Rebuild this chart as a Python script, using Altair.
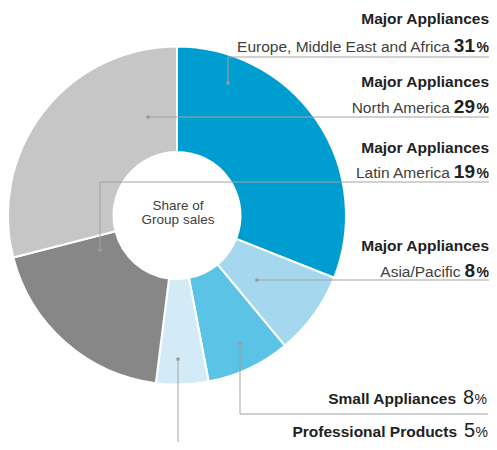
import altair as alt
import pandas as pd

# ---------------- data ----------------
segments = [
    "Major Appliances Europe, Middle East and Africa",
    "Major Appliances Asia/Pacific",
    "Small Appliances",
    "Professional Products",
    "Major Appliances Latin America",
    "Major Appliances North America",
]
shares = [31, 8, 8, 5, 19, 29]
colors = ["#009dd1", "#a5d8ef", "#5bc3e5", "#d3ebf7", "#878787", "#c6c6c6"]

headers = ["Major Appliances", "Major Appliances", "Major Appliances", "Major Appliances"]
regions = ["Europe, Middle East and Africa", "North America", "Latin America", "Asia/Pacific"]
region_values = ["31", "29", "19", "8"]
other_labels = ["Small Appliances", "Professional Products"]
other_values = ["8", "5"]
center_text = ["Share of", "Group sales"]

# ---------------- layout (reference pixel coordinates) ----------------
OFF = 8
W, H = 481, 434
CX, CY = 177, 215.5
R_OUT, R_IN = 169, 63.5
FONT = "Liberation Sans"

header_y = [24, 87, 153, 251]
sub_y = [52, 113, 178, 277]
RIGHT = 489
NUM_RIGHT = 475
other_y = [404, 437]
other_label_right = [456, 457]
other_num_right = [474, 475]
other_pct_right = [487, 488]
center_y = [210, 224]

leaders = [
    [(228, 83), (228, 57), (497, 57)],
    [(148, 117), (497, 117)],
    [(100, 250), (100, 182), (497, 182)],
    [(257, 280), (497, 280)],
    [(240, 343), (240, 414), (488, 414)],
    [(178, 359), (178, 455)],
]

def cx(v):
    return v - OFF

def cy(v):
    return v - OFF

# ---------------- pie ----------------
pie_df = pd.DataFrame({
    "segment": segments,
    "share": shares,
    "color": colors,
    "order": list(range(len(segments))),
})

pie = alt.Chart(pie_df).mark_arc(
    radius=R_OUT, innerRadius=R_IN, stroke="white", strokeWidth=2
).encode(
    theta=alt.Theta("share:Q", stack=True),
    order=alt.Order("order:Q"),
    color=alt.Color("color:N", scale=None),
    x=alt.value(cx(CX)),
    y=alt.value(cy(CY)),
)

# ---------------- leader lines ----------------
rule_rows = []
dot_rows = []
for path in leaders:
    dot_rows.append({"x": cx(path[0][0]), "y": cy(path[0][1])})
    for (x1, y1), (x2, y2) in zip(path[:-1], path[1:]):
        rule_rows.append({"x": cx(x1), "y": cy(y1), "x2": cx(x2), "y2": cy(y2)})

rules = alt.Chart(pd.DataFrame(rule_rows)).mark_rule(
    color="#a3a3a3", strokeWidth=1
).encode(
    x=alt.X("x:Q", scale=None, axis=None),
    y=alt.Y("y:Q", scale=None, axis=None),
    x2="x2:Q",
    y2="y2:Q",
)

dots = alt.Chart(pd.DataFrame(dot_rows)).mark_circle(
    color="#9a9a9a", size=14, opacity=1
).encode(
    x=alt.X("x:Q", scale=None, axis=None),
    y=alt.Y("y:Q", scale=None, axis=None),
)

# ---------------- texts ----------------
NUM_SIZE = 19
def num_width(s, size):
    return 0.556 * size * len(s)

header_df = pd.DataFrame({
    "t": headers,
    "x": [cx(RIGHT)] * len(headers),
    "y": [cy(v) for v in header_y],
})
sub_df = pd.DataFrame({
    "t": regions,
    "x": [cx(NUM_RIGHT - num_width(v, NUM_SIZE) - 4) for v in region_values],
    "y": [cy(v) for v in sub_y],
})
num_df = pd.DataFrame({
    "t": region_values,
    "x": [cx(NUM_RIGHT)] * len(region_values),
    "y": [cy(v) for v in sub_y],
})
pct_df = pd.DataFrame({
    "t": ["%"] * len(region_values),
    "x": [cx(RIGHT)] * len(region_values),
    "y": [cy(v) for v in sub_y],
})
oth_lab_df = pd.DataFrame({
    "t": other_labels,
    "x": [cx(v) for v in other_label_right],
    "y": [cy(v) for v in other_y],
})
oth_num_df = pd.DataFrame({
    "t": other_values,
    "x": [cx(v) for v in other_num_right],
    "y": [cy(v) for v in other_y],
})
oth_pct_df = pd.DataFrame({
    "t": ["%"] * len(other_values),
    "x": [cx(v) for v in other_pct_right],
    "y": [cy(v) for v in other_y],
})
center_df = pd.DataFrame({
    "t": center_text,
    "x": [cx(CX + 1)] * len(center_text),
    "y": [cy(v) for v in center_y],
})

def text_layer(df, size, weight, color, align="right"):
    return alt.Chart(df).mark_text(
        font=FONT, fontSize=size, fontWeight=weight, color=color,
        align=align, baseline="alphabetic",
    ).encode(
        x=alt.X("x:Q", scale=None, axis=None),
        y=alt.Y("y:Q", scale=None, axis=None),
        text="t:N",
    )

texts = [
    text_layer(header_df, 15.5, "bold", "#222222"),
    text_layer(sub_df, 15.5, "normal", "#404040"),
    text_layer(num_df, NUM_SIZE, "bold", "#222222"),
    text_layer(pct_df, 14, "bold", "#222222"),
    text_layer(oth_lab_df, 15.5, "bold", "#222222"),
    text_layer(oth_num_df, 20, "normal", "#222222"),
    text_layer(oth_pct_df, 14, "normal", "#222222"),
    text_layer(center_df, 13.5, "normal", "#404040", align="center"),
]

chart = alt.layer(pie, rules, dots, *texts).properties(
    width=W, height=H,
    autosize=alt.AutoSizeParams(type="none"),
    padding=0,
).configure_view(stroke=None)

chart.save("out.html", embed_options={"renderer": "svg", "actions": False})
